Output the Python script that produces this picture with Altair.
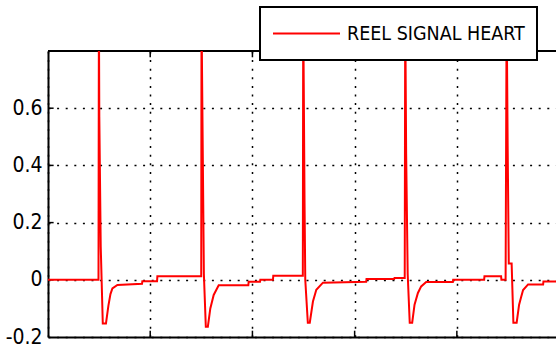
import altair as alt
import pandas as pd

FONT = "Liberation Sans Narrow, DejaVu Sans Condensed, Arial, sans-serif"
SERIES = "REEL SIGNAL HEART"

# time samples (axis units, grid every 100) and signal values
T = [0, 49.4, 49.8, 50.2, 51.6, 53.6, 56.7, 59.1, 61.1, 63.0, 67.9, 92.0, 92.3, 106.7, 107.0,
     149.9, 150.2, 150.7, 152.5, 154.4, 156.4, 158.8, 162.1, 167.0, 196.0, 196.3, 207.4, 207.7, 220.1, 220.4,
     249.3, 249.7, 250.2, 251.0, 251.7, 254.2, 256.1, 259.2, 262.5, 269.0, 311.3, 311.6, 338.7, 339.0, 348.5,
     349.0, 349.5, 350.4, 351.9, 353.9, 356.3, 358.6, 361.9, 365.1, 370.0, 396.1, 396.4, 426.7, 427.0, 443.3, 443.6, 447.7,
     448.7, 449.7, 450.8, 453.6, 455.3, 458.5, 460.9, 462.9, 464.8, 469.7, 484.4, 484.7, 500]
V = [0, 0, 0.95, 0.57, 0.115, -0.153, -0.153, -0.09, -0.05, -0.03, -0.018, -0.014, -0.005, -0.005, 0.012,
     0.012, 0.95, 0.73, 0.02, -0.164, -0.164, -0.1, -0.053, -0.019, -0.019, -0.007, -0.007, 0.0, 0.0, 0.014,
     0.014, 0.95, 0.69, 0.265, 0.0, -0.15, -0.15, -0.076, -0.035, -0.01, -0.007, 0.003, 0.003, 0.006, 0.006,
     0.006, 0.95, 0.44, 0.02, -0.15, -0.15, -0.087, -0.046, -0.023, -0.008, -0.008, 0.0, 0.0, 0.012, 0.012, 0.0, 0.0,
     0.95, 0.47, 0.057, 0.057, -0.15, -0.15, -0.087, -0.06, -0.036, -0.016, -0.016, -0.006, -0.006]
assert len(T) == len(V)

X_TICKS = [0, 100, 200, 300, 400]
Y_TICKS = [-0.2, 0, 0.2, 0.4, 0.6]
X_DOMAIN = [0, 497]
Y_DOMAIN = [-0.2, 0.8]

sig = pd.DataFrame({"t": T, "v": V, "s": [SERIES] * len(T)})

xs = alt.Scale(domain=X_DOMAIN, nice=False, zero=False)
ys = alt.Scale(domain=Y_DOMAIN, nice=False, zero=False)

x_axis = alt.Axis(values=X_TICKS, labels=False, ticks=False, title=None, domain=True,
                  domainColor="black", domainWidth=2, grid=True, gridColor="black",
                  gridDash=[2, 6.6], gridWidth=1.5, gridOpacity=1)
y_axis = alt.Axis(values=Y_TICKS, ticks=False, title=None, domain=True,
                  domainColor="black", domainWidth=2, grid=True, gridColor="black",
                  gridDash=[2, 6.6], gridWidth=1.5, gridOpacity=1,
                  labelFont=FONT, labelFontSize=21, labelColor="black", labelPadding=6,
                  labelExpr="replace(format(datum.value, '.1~f'), '\u2212', '-')")

line = alt.Chart(sig).mark_line(strokeWidth=2, clip=True, interpolate="linear").encode(
    x=alt.X("t:Q", scale=xs, axis=x_axis),
    y=alt.Y("v:Q", scale=ys, axis=y_axis),
    color=alt.Color("s:N", scale=alt.Scale(domain=[SERIES], range=["#ff0000"]),
                    legend=alt.Legend(orient="none", legendX=212, legendY=-44, title=None,
                                      symbolType="stroke", symbolSize=4489, symbolStrokeWidth=2,
                                      clipHeight=29, labelFont=FONT, labelFontSize=19.5,
                                      labelLimit=400,
                                      labelColor="black", labelOffset=6, padding=12,
                                      strokeColor="black", fillColor="white")),
)

# top border
top = alt.Chart(pd.DataFrame({"y": [Y_DOMAIN[1]]})).mark_rule(color="black", strokeWidth=2).encode(
    y=alt.Y("y:Q", scale=ys, axis=y_axis)
)

# inward tick marks
bt = pd.DataFrame({"x": X_TICKS[1:], "y0": [Y_DOMAIN[0]] * 4, "y1": [Y_DOMAIN[0] + 0.022] * 4})
tt = pd.DataFrame({"x": X_TICKS[1:], "y0": [Y_DOMAIN[1]] * 4, "y1": [Y_DOMAIN[1] - 0.022] * 4})
lt = pd.DataFrame({"y": Y_TICKS[1:], "x0": [0] * 4, "x1": [5.5] * 4})

btm = alt.Chart(bt).mark_rule(color="black", strokeWidth=1.5).encode(
    x=alt.X("x:Q", scale=xs, axis=x_axis), y=alt.Y("y0:Q", scale=ys, axis=y_axis), y2="y1:Q")
tpm = alt.Chart(tt).mark_rule(color="black", strokeWidth=1.5).encode(
    x=alt.X("x:Q", scale=xs, axis=x_axis), y=alt.Y("y0:Q", scale=ys, axis=y_axis), y2="y1:Q")
lfm = alt.Chart(lt).mark_rule(color="black", strokeWidth=1.5).encode(
    y=alt.Y("y:Q", scale=ys, axis=y_axis), x=alt.X("x0:Q", scale=xs, axis=x_axis), x2="x1:Q")

chart = alt.layer(btm, tpm, lfm, top, line).properties(
    width=508, height=286,
    autosize=alt.AutoSizeParams(type="none"),
    padding={"left": 48, "top": 51, "right": 0, "bottom": 9},
    background="white",
).configure_view(stroke=None).configure_legend(strokeWidth=2)

chart.save("out.html", embed_options={"renderer": "svg", "actions": False})
